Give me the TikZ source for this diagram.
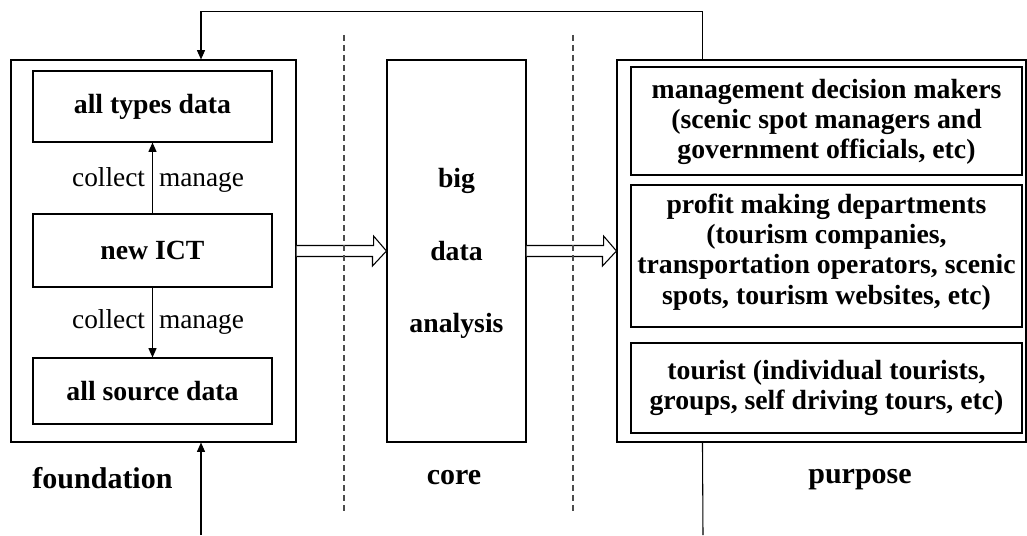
\documentclass[tikz,border=0pt]{standalone}
\usepackage{fontspec}
\setmainfont{Liberation Serif}
\usetikzlibrary{arrows.meta,calc}
\begin{document}
\begin{tikzpicture}[x=0.75pt,y=-0.75pt,
  line width=0.8pt,
  box/.style={draw, rectangle, inner sep=0pt, align=center, font=\fontsize{20.8}{22.6}\selectfont\bfseries},
  lbl/.style={font=\fontsize{20.5}{22}\selectfont, inner sep=0pt},
  tag/.style={font=\fontsize{22.5}{26}\selectfont\bfseries, inner sep=0pt, anchor=base},
  sep/.style={dash pattern=on 4.5pt off 3pt, draw=black!70, line width=1pt},
  tip/.style={-{Triangle[length=7pt,width=6pt]}},
  hollow/.style={draw, fill=white}]
\useasboundingbox (0,0) rectangle (1027,535);

% outer containers
\node[box, minimum width=213.75pt, minimum height=286.5pt] (L) at (153.5,251) {};
\node[box, minimum width=104.25pt, minimum height=286.5pt] (M) at (456.5,251) {};
\node[box, minimum width=306.75pt, minimum height=286.5pt] (R) at (821.5,251) {};
\node[box, draw=none, font=\fontsize{20.8}{54.4}\selectfont\bfseries] (Mtext) at (456.5,253.5) {big\\data\\analysis};

% left inner boxes
\node[box, minimum width=179.25pt, minimum height=53.25pt] (types) at (152.5,106.5) {all types data};
\node[box, minimum width=179.25pt, minimum height=54.75pt] (ict) at (152.5,250.5) {new ICT};
\node[box, minimum width=179.25pt, minimum height=49.5pt] (source) at (152.5,391) {all source data};

% right inner boxes
\node[box, minimum width=293.25pt, minimum height=81pt] (r1) at (826.5,121) {};
\node[box, draw=none] (r1text) at (826.5,122) {management decision makers\\(scenic spot managers and\\government officials, etc)};
\node[box, minimum width=293.25pt, minimum height=106.5pt] (r2) at (826.5,256) {};
\node[box, draw=none] (r2text) at (826.5,252) {profit making departments\\(tourism companies,\\transportation operators, scenic\\spots, tourism websites, etc)};
\node[box, minimum width=293.25pt, minimum height=67.5pt] (r3) at (826.5,388) {tourist (individual tourists,\\groups, self driving tours, etc)};

% vertical arrows with labels
\draw[tip] (ict.north) -- (types.south) coordinate[midway] (m1);
\draw[tip] (ict.south) -- (source.north) coordinate[midway] (m2);
\node[lbl, anchor=base east] (c1) at ($(m1)+(-7,8)$) {collect};
\node[lbl, anchor=base west] (g1) at ($(m1)+(6,8)$) {manage};
\node[lbl, anchor=base east] (c2) at ($(m2)+(-7,6)$) {collect};
\node[lbl, anchor=base west] (g2) at ($(m2)+(6,6)$) {manage};

% hollow arrows
\draw[hollow] ($(L.east)+(0,-5.5)$) -- ++(77,0) -- ++(0,-9.5) -- (M.west) -- ++(-14,15) -- ++(0,-9.5) -- ($(L.east)+(0,5.5)$);
\draw[hollow] ($(M.east)+(0,-5.5)$) -- ++(77,0) -- ++(0,-9.5) -- (R.west) -- ++(-14,15) -- ++(0,-9.5) -- ($(M.east)+(0,5.5)$);

% dashed separators
\draw[sep] (344,35) -- (344,515);
\draw[sep] (573,35) -- (573,515);

% feedback loop
\draw[tip] ([xshift=64.5pt]R.north west) -- ++(0,-48) -| ([xshift=35.625pt]L.north);
\coordinate (inA) at (201,535);
\coordinate (outB) at (703,535);
\draw[tip] (inA) -- (inA |- L.south);
\draw ([xshift=64.5pt]R.south west) -- (outB);

% section labels
\node[tag] (fnd) at (102.5,488) {foundation};
\node[tag] (cor) at (454,484) {core};
\node[tag] (pur) at (860,483) {purpose};
\end{tikzpicture}
\end{document}
